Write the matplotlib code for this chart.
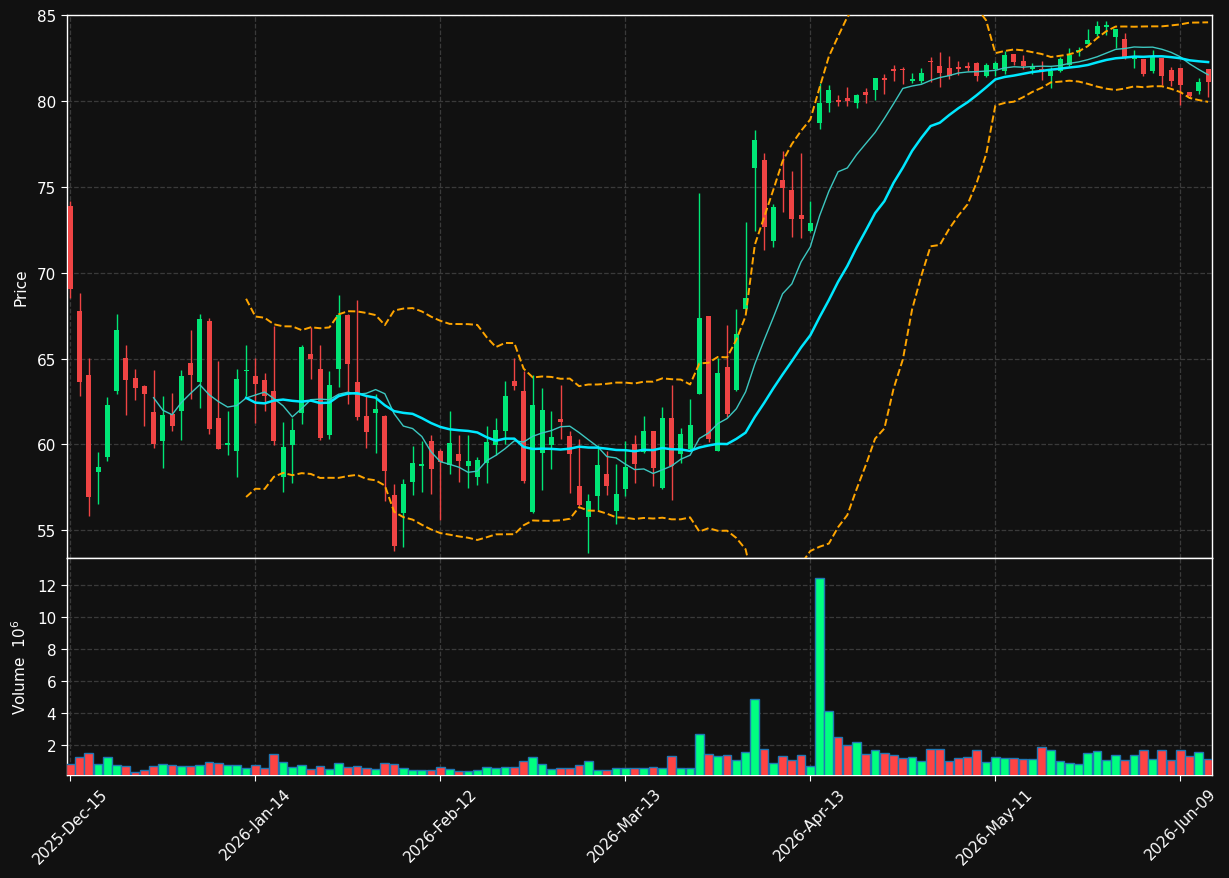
import matplotlib.pyplot as plt
import numpy as np
import pandas as pd

# trading days (NYSE calendar)
holidays = ['2025-12-25', '2026-01-01', '2026-01-19', '2026-02-16', '2026-04-03', '2026-05-25']
dates = pd.bdate_range('2025-12-15', periods=124, freq='C', holidays=holidays)

opens = [73.89, 67.78, 64.04, 58.36, 59.25, 63.08, 65.03, 63.88, 63.41, 61.89,
         60.17, 61.75, 61.97, 64.74, 63.61, 67.20, 61.54, 59.95, 59.64, 64.25,
         64.00, 63.76, 63.12, 58.08, 59.94, 61.85, 65.27, 64.39, 60.52, 64.41,
         67.55, 63.63, 61.67, 61.85, 61.67, 57.05, 55.98, 57.83, 58.75, 60.21,
         59.61, 58.79, 59.45, 58.75, 58.12, 58.92, 59.98, 60.80, 63.70, 63.12,
         56.07, 59.51, 59.98, 61.46, 60.50, 57.58, 55.74, 57.01, 58.28, 56.09,
         57.38, 60.02, 59.57, 60.78, 57.48, 61.54, 59.41, 59.70, 62.96, 67.49,
         59.64, 64.52, 63.14, 67.88, 76.08, 76.58, 71.82, 75.39, 74.83, 73.38,
         72.41, 78.75, 79.86, 80.08, 80.18, 79.86, 80.55, 80.62, 81.35, 81.89,
         81.85, 81.19, 81.17, 82.34, 82.05, 81.93, 81.97, 82.03, 82.24, 81.44,
         81.89, 81.78, 82.75, 82.32, 81.85, 81.85, 81.48, 81.76, 82.13, 82.85,
         83.30, 83.88, 84.29, 83.73, 83.63, 82.48, 82.46, 81.76, 82.50, 81.83,
         81.93, 80.53, 80.59, 81.89]
highs = [74.20, 68.80, 65.03, 59.57, 62.75, 67.61, 65.79, 64.39, 63.45, 64.35,
         62.81, 62.98, 64.35, 66.67, 67.61, 67.37, 64.86, 61.93, 64.39, 65.79,
         65.03, 64.17, 66.90, 61.32, 61.52, 65.79, 66.81, 65.79, 64.27, 68.70,
         67.60, 68.39, 62.81, 62.96, 61.70, 57.69, 57.99, 59.90, 60.19, 60.56,
         59.70, 61.95, 60.54, 60.54, 59.26, 61.05, 61.52, 63.68, 65.03, 64.27,
         64.02, 63.26, 61.93, 63.45, 60.76, 60.31, 57.11, 59.94, 59.60, 58.87,
         60.21, 60.54, 61.64, 60.80, 62.15, 63.47, 60.96, 62.63, 74.65, 67.50,
         65.05, 66.98, 67.88, 72.97, 78.30, 76.99, 74.00, 77.09, 75.92, 76.96,
         74.18, 81.07, 80.94, 80.33, 80.82, 80.40, 80.74, 81.36, 81.56, 82.11,
         81.97, 81.66, 81.93, 82.56, 82.85, 82.60, 82.32, 82.26, 82.25, 82.19,
         82.36, 82.93, 82.76, 82.71, 82.22, 82.36, 81.99, 82.54, 83.08, 83.16,
         84.18, 84.66, 84.66, 84.20, 83.94, 82.97, 82.46, 82.97, 82.50, 81.97,
         81.93, 80.53, 81.37, 81.89]
lows = [68.52, 62.81, 55.82, 56.52, 59.02, 62.96, 61.69, 62.61, 61.05, 59.78,
        58.65, 60.76, 60.25, 62.63, 62.10, 60.60, 59.70, 59.37, 58.08, 62.81,
        61.23, 61.95, 59.94, 57.22, 57.75, 61.17, 63.80, 60.25, 60.32, 63.33,
        62.34, 61.42, 59.76, 59.47, 56.70, 53.77, 54.04, 57.05, 57.22, 57.13,
        55.62, 58.30, 57.79, 57.48, 57.63, 57.73, 59.37, 60.02, 63.16, 57.73,
        55.98, 57.32, 58.59, 60.32, 57.15, 56.38, 53.69, 56.17, 57.05, 55.33,
        57.00, 57.75, 59.50, 57.60, 57.42, 56.74, 58.92, 59.66, 62.96, 60.15,
        59.60, 61.62, 63.10, 67.80, 72.45, 71.30, 71.47, 73.52, 72.08, 72.02,
        72.39, 78.40, 79.38, 79.71, 79.73, 79.57, 79.88, 80.04, 80.41, 81.15,
        81.00, 81.03, 81.07, 81.11, 80.82, 81.27, 81.52, 81.76, 81.17, 81.40,
        81.48, 81.58, 82.09, 81.85, 81.58, 81.21, 80.74, 81.72, 82.03, 82.60,
        83.24, 83.79, 83.84, 83.08, 82.44, 81.91, 81.48, 81.66, 80.96, 80.90,
        79.79, 80.25, 80.39, 80.25]
closes = [69.03, 63.65, 56.91, 58.69, 62.30, 66.67, 63.72, 63.27, 62.92, 60.00,
          61.73, 61.05, 64.00, 64.06, 67.31, 60.87, 59.74, 60.05, 63.82, 64.35,
          63.49, 62.79, 60.17, 59.86, 60.85, 65.69, 64.95, 60.37, 63.47, 67.55,
          64.66, 61.62, 60.72, 62.03, 58.42, 54.10, 57.71, 58.92, 58.83, 58.59,
          58.96, 60.09, 59.04, 59.04, 59.10, 60.15, 60.85, 62.83, 63.41, 57.89,
          62.30, 62.01, 60.43, 61.28, 59.41, 56.44, 56.70, 58.81, 57.60, 57.11,
          58.69, 58.83, 60.78, 58.65, 61.54, 58.71, 60.62, 61.13, 67.37, 60.29,
          64.17, 61.79, 66.44, 68.54, 77.74, 72.64, 73.85, 74.91, 73.11, 73.15,
          72.90, 79.90, 80.66, 79.96, 79.98, 80.37, 80.33, 81.35, 81.25, 81.78,
          81.80, 81.29, 81.64, 82.26, 81.66, 81.46, 81.87, 81.95, 81.44, 82.11,
          82.24, 82.69, 82.30, 82.03, 82.03, 81.68, 81.76, 82.46, 82.67, 82.95,
          83.57, 84.35, 84.45, 84.20, 82.54, 82.58, 81.56, 82.56, 81.44, 81.15,
          80.96, 80.27, 81.13, 81.13]
# volume in millions
volumes = [0.81, 1.27, 1.52, 0.81, 1.27, 0.75, 0.69, 0.31, 0.44, 0.69,
           0.81, 0.75, 0.69, 0.69, 0.75, 0.94, 0.88, 0.75, 0.75, 0.56,
           0.75, 0.56, 1.44, 0.94, 0.63, 0.75, 0.50, 0.69, 0.50, 0.88,
           0.63, 0.69, 0.56, 0.50, 0.88, 0.81, 0.56, 0.44, 0.44, 0.44,
           0.63, 0.50, 0.38, 0.38, 0.44, 0.63, 0.56, 0.63, 0.63, 1.00,
           1.25, 0.81, 0.50, 0.56, 0.56, 0.75, 1.00, 0.44, 0.44, 0.56,
           0.56, 0.56, 0.56, 0.63, 0.56, 1.31, 0.56, 0.56, 2.69, 1.44,
           1.31, 1.38, 1.06, 1.56, 4.88, 1.75, 0.88, 1.31, 1.06, 1.38,
           0.69, 12.44, 4.13, 2.50, 2.00, 2.19, 1.44, 1.69, 1.50, 1.38,
           1.19, 1.25, 1.00, 1.75, 1.75, 1.00, 1.19, 1.25, 1.69, 0.94,
           1.25, 1.19, 1.19, 1.13, 1.13, 1.88, 1.69, 1.00, 0.88, 0.81,
           1.50, 1.63, 1.06, 1.38, 1.06, 1.38, 1.69, 1.13, 1.69, 1.06,
           1.69, 1.31, 1.56, 1.13]

bg = '#111111'
up_col = '#00e676'
down_col = '#ef4444'
vol_up = '#00ff80'
vol_down = '#ff4444'

o = np.array(opens)
h = np.array(highs)
l = np.array(lows)
c = np.array(closes)
x = np.arange(len(c))
rising = c >= o

close = pd.Series(closes)
ma10 = close.rolling(10).mean()
ma20 = close.rolling(20).mean()
sd20 = close.rolling(20).std(ddof=0)
upper = ma20 + 2 * sd20
lower = ma20 - 2 * sd20

fig = plt.figure(figsize=(12.29, 8.79), dpi=100, facecolor=bg)
ax = fig.add_axes([0.0543, 0.3641, 0.9317, 0.6174], facecolor=bg)
axv = fig.add_axes([0.0543, 0.1172, 0.9317, 0.2469], facecolor=bg, sharex=ax)

# candles
cols = np.where(rising, up_col, down_col)
ax.vlines(x, l, h, colors=cols, linewidth=1, zorder=2)
body_low = np.minimum(o, c)
body_h = np.maximum(np.abs(c - o), 0.08)
ax.bar(x, body_h, bottom=body_low, width=0.55, color=cols, linewidth=0, zorder=3)

# moving averages and bands
ax.plot(x, ma10, color='#3cc7c0', linewidth=1, zorder=4)
ax.plot(x, ma20, color='#00e8ff', linewidth=1.8, zorder=4)
ax.plot(x, upper, '--', color='#ffa500', linewidth=1.4, zorder=4)
ax.plot(x, lower, '--', color='#ffa500', linewidth=1.4, zorder=4)

# volume
vcols = np.where(rising, vol_up, vol_down)
axv.bar(x, volumes, width=0.95, color=vcols, edgecolor='#1f77b4', linewidth=1, zorder=3)

ax.set_xlim(-0.39, 123.4)
ax.set_ylim(53.38, 85.0)
axv.set_ylim(0.146, 13.68)

ticks = list(range(0, 124, 20))
axv.set_xticks(ticks)
axv.set_xticklabels([dates[i].strftime('%Y-%b-%d') for i in ticks], rotation=45)
ax.tick_params(axis='x', labelbottom=False)
ax.set_yticks([55, 60, 65, 70, 75, 80, 85])
axv.set_yticks([2, 4, 6, 8, 10, 12])

for a in (ax, axv):
    a.grid(True, linestyle='--', color='#3a3a3a', linewidth=0.9)
    a.set_axisbelow(True)
    a.tick_params(colors='white', labelsize=11, length=4)
    for s in a.spines.values():
        s.set_color('white')
        s.set_linewidth(1)

ax.set_ylabel('Price', color='white', fontsize=11)
axv.set_ylabel('Volume  $10^6$', color='white', fontsize=11)
ax.yaxis.set_label_coords(-0.033, 0.5)
axv.yaxis.set_label_coords(-0.033, 0.5)

fig.savefig('out.png', dpi=100, facecolor=bg)
